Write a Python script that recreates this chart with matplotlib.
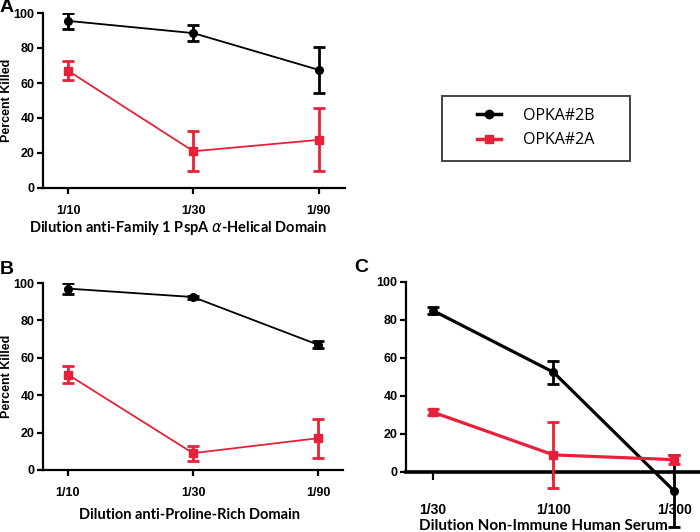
import matplotlib.pyplot as plt
from matplotlib.patches import Rectangle
from matplotlib.lines import Line2D

# Panel A: anti-Family 1 PspA alpha-helical domain
a_labels = ['1/10', '1/30', '1/90']
a_2b = [95.5, 88.5, 67.5]
a_2b_err = [4.5, 4.5, 13.0]
a_2a = [67.0, 21.0, 27.5]
a_2a_err = [5.5, 11.5, 18.0]

# Panel B: anti-proline-rich domain
b_labels = ['1/10', '1/30', '1/90']
b_2b = [97.0, 92.5, 67.0]
b_2b_err = [3.0, 0.8, 2.0]
b_2a = [51.0, 9.0, 17.0]
b_2a_err = [4.5, 4.0, 10.5]

# Panel C: non-immune human serum
c_labels = ['1/30', '1/100', '1/300']
c_2b = [85.0, 52.5, -10.0]
c_2b_err = [2.0, 6.0, 19.0]
c_2a = [31.5, 9.0, 6.5]
c_2a_err = [1.5, 17.5, 2.5]

BLACK = '#000000'
RED = '#e8203a'
TICKFONT = 'Liberation Sans'
LABFONT = 'Lato'

fig = plt.figure(figsize=(7, 5.32), dpi=100)


def panel(rect, labels, s2b, e2b, s2a, e2a, xlim, lw, clip=True):
    ax = fig.add_axes(rect)
    x = list(range(len(labels)))
    ax.errorbar(x, s2b, yerr=e2b, color=BLACK, lw=lw, marker='o', ms=5.5,
                elinewidth=2, capsize=4, capthick=2, clip_on=clip, zorder=3)
    ax.errorbar(x, s2a, yerr=e2a, color=RED, lw=lw, marker='s', ms=5.5,
                elinewidth=2, capsize=4, capthick=2, clip_on=clip, zorder=3)
    if not clip:
        for art in ax.get_children():
            art.set_clip_on(False)
    ax.set_xlim(*xlim)
    ax.set_ylim(0, 100)
    ax.set_yticks([0, 20, 40, 60, 80, 100])
    ax.set_xticks(x)
    ax.set_xticklabels(labels)
    for s in ['top', 'right']:
        ax.spines[s].set_visible(False)
    for s in ['left', 'bottom']:
        ax.spines[s].set_linewidth(1.6)
    ax.tick_params(width=1.6, length=4, labelsize=9, pad=2)
    for t in ax.get_xticklabels() + ax.get_yticklabels():
        t.set_fontfamily(TICKFONT)
        t.set_fontweight('bold')
    return ax


def letter(x, y, s):
    fig.text(x/700, 1-y/532, s, ha='left', va='center', fontfamily=TICKFONT,
             fontweight='bold', fontsize=14)


# A
axA = panel([43/700, 1-188/532, 302/700, 175/532], a_labels,
            a_2b, a_2b_err, a_2a, a_2a_err, (-0.2, 2.21), 1.3)
axA.tick_params(axis='x', pad=8)
axA.set_ylabel('Percent Killed', fontfamily=TICKFONT, fontweight='bold', fontsize=9)
axA.yaxis.set_label_coords(-30/302, 0.5)
fig.text(178/700, 1-228/532, 'Dilution anti-Family 1 PspA $\\alpha$-Helical Domain',
         ha='center', va='center', fontfamily=LABFONT, fontweight='bold', fontsize=10.5)
letter(0, 8, 'A')

# B
axB = panel([43/700, 1-470/532, 300/700, 187/532], b_labels,
            b_2b, b_2b_err, b_2a, b_2a_err, (-0.2, 2.2), 1.3)
axB.tick_params(axis='x', pad=8)
axB.set_ylabel('Percent Killed', fontfamily=TICKFONT, fontweight='bold', fontsize=9)
axB.yaxis.set_label_coords(-30/300, 0.5)
fig.text(190/700, 1-515/532, 'Dilution anti-Proline-Rich Domain',
         ha='center', va='center', fontfamily=LABFONT, fontweight='bold', fontsize=10.5)
letter(0, 269, 'B')

# C
axC = panel([406/700, 1-472/532, 294/700, 190/532], c_labels,
            c_2b, c_2b_err, c_2a, c_2a_err, (-0.223, 2.215), 2.3, clip=False)
axC.spines['bottom'].set_linewidth(2.6)
axC.tick_params(axis='x', length=6, pad=16, labelsize=10)
fig.text(543/700, 1-526/532, 'Dilution Non-Immune Human Serum',
         ha='center', va='center', fontfamily=LABFONT, fontweight='bold', fontsize=11)
letter(354, 267, 'C')

# legend box
fig.patches.append(Rectangle((442/700, 1-161/532), 188/700, 65/532,
                             transform=fig.transFigure, fill=False,
                             edgecolor='#444444', lw=1.4))
handles = [Line2D([], [], color=BLACK, lw=2.5, marker='o', ms=6),
           Line2D([], [], color=RED, lw=2.5, marker='s', ms=6)]
fig.legend(handles, ['OPKA#2B', 'OPKA#2A'], loc='center',
           bbox_to_anchor=(536/700, 1-128/532), frameon=False,
           prop={'family': 'Open Sans', 'size': 11.5}, handlelength=1.5,
           handletextpad=1.4, labelspacing=0.55)

fig.savefig('out.png', dpi=100)
